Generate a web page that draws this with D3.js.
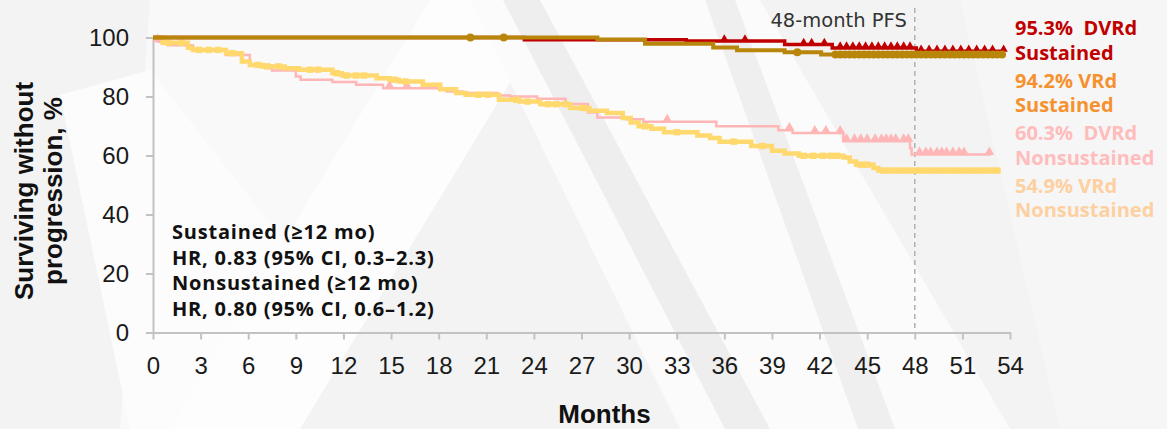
<!DOCTYPE html>
<html>
<head>
<meta charset="utf-8">
<script src="https://cdn.jsdelivr.net/npm/d3@7"></script>
<style>
  html, body { margin: 0; padding: 0; background: #f5f5f5; }
  svg { display: block; }
  text { white-space: pre; }
</style>
</head>
<body>
<svg id="chart" width="1167" height="429"></svg>
<script>
// ---- axis ticks ----
const xTicks = [0, 3, 6, 9, 12, 15, 18, 21, 24, 27, 30, 33, 36, 39, 42, 45, 48, 51, 54];
const yTicks = [0, 20, 40, 60, 80, 100];

// ---- DVRd, sustained MRD negativity (step times in months, % surviving after each step) ----
const dvrdSusTimes = [0, 23.4, 33.6, 39.8, 42.8, 48.1];
const dvrdSusSurv  = [100, 99.2, 98.8, 97.6, 96.4, 95.3];
const dvrdSusEnd = 53.6;
const dvrdSusCensor = [36.0, 37.3, 41.0, 41.5, 42.3, 43.3, 43.7, 44.1, 44.5, 44.9, 45.3, 45.7, 46.1, 46.5,
  46.9, 47.3, 47.7, 48.4, 48.9, 49.4, 49.9, 50.4, 50.9, 51.4, 51.9, 52.4, 52.9, 53.6];

// ---- VRd, sustained ----
const vrdSusTimes = [0, 28.0, 31.0, 35.3, 36.8, 39.8, 42.1];
const vrdSusSurv  = [100, 99.3, 97.9, 96.6, 95.7, 95.0, 94.2];
const vrdSusEnd = 53.5;
const vrdSusCensor = [20.0, 22.1, 40.6, 43.0, 43.3, 43.6, 43.9, 44.2, 44.5, 44.8, 45.1, 45.4, 45.7, 46.0,
  46.3, 46.6, 46.9, 47.2, 47.5, 47.8, 48.1, 48.4, 48.7, 49.0, 49.3, 49.6, 49.9, 50.2, 50.5, 50.8, 51.1,
  51.4, 51.7, 52.0, 52.3, 52.6, 52.9, 53.2, 53.5];

// ---- DVRd, nonsustained ----
const dvrdNonTimes = [0, 0.3, 0.9, 2.5, 4.6, 6.1, 7.5, 9.0, 9.3, 11.3, 12.8, 14.5, 18.5, 19.5, 21.7, 22.5,
  24.2, 26.0, 27.4, 28.0, 29.8, 30.9, 35.5, 39.4, 40.3, 43.5, 47.7, 47.8];
const dvrdNonSurv  = [100, 98.6, 97.4, 96.0, 94.1, 90.5, 88.8, 86.8, 85.7, 84.9, 84.0, 82.8, 81.7, 81.2,
  80.3, 80.0, 79.2, 77.5, 74.6, 72.9, 72.3, 71.4, 69.9, 68.6, 67.6, 64.8, 62.5, 60.3];
const dvrdNonEnd = 52.8;
const dvrdNonCensor = [0.3, 14.9, 16.0, 32.4, 40.1, 41.7, 42.4, 43.3, 43.7, 44.2, 44.6, 45.0, 45.5, 45.9,
  46.2, 46.5, 46.8, 47.3, 47.6, 48.3, 48.7, 49.0, 49.4, 49.7, 50.0, 50.4, 50.8, 51.1, 52.7];

// ---- VRd, nonsustained ----
const vrdNonTimes = [0, 0.6, 2.2, 2.5, 4.6, 5.6, 6.1, 6.9, 8.3, 9.2, 11.3, 11.9, 14.1, 14.9, 15.5, 17.0,
  18.1, 19.1, 19.7, 21.8, 23.1, 24.4, 26.3, 27.5, 28.6, 29.6, 30.1, 30.6, 31.4, 32.2, 34.3, 35.1, 35.7,
  37.7, 39.0, 39.8, 40.7, 43.5, 43.9, 44.3, 45.4, 45.7];
const vrdNonSurv  = [100, 98.2, 96.5, 95.8, 94.7, 91.9, 90.7, 90.2, 89.6, 89.1, 87.9, 87.1, 86.2, 85.7,
  85.1, 84.0, 82.5, 81.2, 80.6, 78.9, 78.3, 77.4, 76.1, 75.2, 74.4, 72.7, 71.2, 69.9, 69.1, 67.9, 66.8,
  65.9, 64.7, 63.2, 61.6, 60.7, 59.9, 59.3, 58.0, 56.9, 55.8, 54.9];
const vrdNonEnd = 53.4;
const vrdNonCensor = [1.0, 1.8, 2.9, 3.5, 4.1, 5.0, 6.6, 7.2, 7.9, 9.9, 10.4, 11.6, 12.2, 12.8, 13.3, 15.2,
  15.9, 20.5, 21.1, 22.9, 23.6, 24.9, 25.4, 26.0, 27.1, 31.0, 33.0, 36.6, 38.4, 41.0, 41.6, 42.2, 42.7,
  43.1, 44.6, 45.0, 46.0, 46.4, 46.8, 47.2, 47.6, 48.0, 48.4, 48.8, 49.2, 49.6, 50.0, 50.4, 50.8, 51.2,
  51.6, 52.0, 52.4, 52.8, 53.2];

// ---- text ----
const landmarkMonth = 48;
const landmarkLabel = "48-month PFS";
const legendLines = [
  { text: "95.3%  DVRd", color: "#c00000" },
  { text: "Sustained", color: "#c00000" },
  { text: "94.2% VRd", color: "#f5922f" },
  { text: "Sustained", color: "#f5922f" },
  { text: "60.3%  DVRd", color: "#ffbcbc" },
  { text: "Nonsustained", color: "#ffbcbc" },
  { text: "54.9% VRd", color: "#fdd0a2" },
  { text: "Nonsustained", color: "#fdd0a2" }
];
const hrLines = [
  "Sustained (\u226512 mo)",
  "HR, 0.83 (95% CI, 0.3\u20132.3)",
  "Nonsustained (\u226512 mo)",
  "HR, 0.80 (95% CI, 0.6\u20131.2)"
];
const xTitle = "Months";
const yTitle = ["Surviving without", "progression, %"];

// ---- drawing ----
const W = 1167, H = 429;
const svg = d3.select("#chart");

// soft decorative backdrop
const bg = svg.append("g");
bg.append("rect").attr("width", W).attr("height", H).attr("fill", "#f3f3f3");
const bgShapes = [
  { pts: [[150,0],[470,0],[300,429],[120,429]], fill: "#f9f9f9" },
  { pts: [[60,95],[150,70],[330,300],[250,429],[130,429]], fill: "#fcfcfc" },
  { pts: [[430,0],[560,0],[300,429],[170,429]], fill: "#fdfdfd" },
  { pts: [[470,0],[760,0],[1010,429],[680,429]], fill: "#fbfbfb" },
  { pts: [[503,0],[540,0],[770,429],[725,429]], fill: "#eeeeee" },
  { pts: [[705,0],[735,0],[895,429],[858,429]], fill: "#efefef" },
  { pts: [[960,0],[1167,0],[1167,429],[1060,429]], fill: "#f6f6f6" }
];
bg.selectAll("polygon").data(bgShapes).join("polygon")
  .attr("points", d => d.pts.map(p => p.join(",")).join(" "))
  .attr("fill", d => d.fill);

const x = d3.scaleLinear().domain([0, 54]).range([153, 1010]);
const y = d3.scaleLinear().domain([0, 100]).range([332.5, 37.5]);

// axes
const axisColor = "#c2c2c2";
const xAxis = svg.append("g").attr("transform", `translate(0,${y(0)})`)
  .call(d3.axisBottom(x).tickValues(xTicks).tickSize(7).tickSizeOuter(0).tickPadding(17));
const yAxis = svg.append("g").attr("transform", `translate(${x(0)},0)`)
  .call(d3.axisLeft(y).tickValues(yTicks).tickSize(7).tickSizeOuter(0).tickPadding(17));
[xAxis, yAxis].forEach(g => {
  g.select(".domain").attr("stroke", axisColor).attr("stroke-width", 2);
  g.selectAll(".tick line").attr("stroke", axisColor).attr("stroke-width", 2);
  g.selectAll(".tick text").attr("fill", "#1a1a1a")
    .style("font-family", "'Liberation Sans', Arial, sans-serif").style("font-size", "24px");
});

// 48-month landmark
svg.append("line")
  .attr("x1", x(landmarkMonth)).attr("x2", x(landmarkMonth))
  .attr("y1", 8).attr("y2", y(0))
  .attr("stroke", "#b0b0b0").attr("stroke-width", 1.5).attr("stroke-dasharray", "5,4");
svg.append("text")
  .attr("x", x(landmarkMonth) - 8).attr("y", 27)
  .attr("text-anchor", "end").attr("fill", "#333")
  .style("font-family", "'DejaVu Sans', sans-serif").style("font-size", "19.5px")
  .text(landmarkLabel);

// Kaplan-Meier curves
const series = [
  { times: dvrdNonTimes, surv: dvrdNonSurv, end: dvrdNonEnd, censor: dvrdNonCensor,
    color: "#ffb6b6", width: 2.5, symbol: d3.symbolTriangle, size: 42, lift: 2.5 },
  { times: vrdNonTimes, surv: vrdNonSurv, end: vrdNonEnd, censor: vrdNonCensor,
    color: "#ffd86e", width: 4.5, symbol: d3.symbolSquare, size: 42, lift: 0 },
  { times: dvrdSusTimes, surv: dvrdSusSurv, end: dvrdSusEnd, censor: dvrdSusCensor,
    color: "#c00000", width: 3.5, symbol: d3.symbolTriangle, size: 30, lift: 2 },
  { times: vrdSusTimes, surv: vrdSusSurv, end: vrdSusEnd, censor: vrdSusCensor,
    color: "#b8860b", width: 4, symbol: d3.symbolCircle, size: 50, lift: 0 }
];

const stepLine = d3.line().x(d => x(d[0])).y(d => y(d[1])).curve(d3.curveStepAfter);
function survAt(s, t) {
  let v = s.surv[0];
  for (let i = 0; i < s.times.length; i++) if (s.times[i] <= t) v = s.surv[i];
  return v;
}

series.forEach(s => {
  const pts = s.times.map((t, i) => [t, s.surv[i]]);
  pts.push([s.end, s.surv[s.surv.length - 1]]);
  const g = svg.append("g");
  g.append("path").attr("d", stepLine(pts))
    .attr("fill", "none").attr("stroke", s.color).attr("stroke-width", s.width)
    .attr("stroke-linejoin", "miter");
  g.selectAll("path.mark").data(s.censor).join("path").attr("class", "mark")
    .attr("d", d3.symbol().type(s.symbol).size(s.size))
    .attr("transform", t => `translate(${x(t)},${y(survAt(s, t)) - s.lift})`)
    .attr("fill", s.color);
});

// hazard ratio box
svg.append("g").selectAll("text").data(hrLines).join("text")
  .attr("x", 172).attr("y", (d, i) => 239 + i * 25.7)
  .attr("fill", "#111")
  .style("font-family", "'Open Sans', sans-serif").style("font-weight", 700).style("font-size", "20px")
  .style("letter-spacing", "0.8px")
  .text(d => d);

// right-hand labels
svg.append("g").selectAll("text").data(legendLines).join("text")
  .attr("x", 1015)
  .attr("y", (d, i) => 35 + Math.floor(i / 2) * 52.5 + (i % 2) * 24.5)
  .attr("fill", d => d.color)
  .style("font-family", "'Open Sans', sans-serif").style("font-weight", 700).style("font-size", "20px")
  .text(d => d.text);

// axis titles
svg.append("text")
  .attr("x", (x(0) + x(54)) / 2 + 23).attr("y", 423)
  .attr("text-anchor", "middle").attr("fill", "#111")
  .style("font-family", "'Liberation Sans', Arial, sans-serif").style("font-weight", 700).style("font-size", "26px")
  .text(xTitle);
svg.append("g").attr("transform", "rotate(-90)")
  .selectAll("text").data(yTitle).join("text")
  .attr("x", -191).attr("y", (d, i) => 33 + i * 29)
  .attr("text-anchor", "middle").attr("fill", "#111")
  .style("font-family", "'Liberation Sans', Arial, sans-serif").style("font-weight", 700).style("font-size", "26px")
  .text(d => d);
</script>
</body>
</html>
